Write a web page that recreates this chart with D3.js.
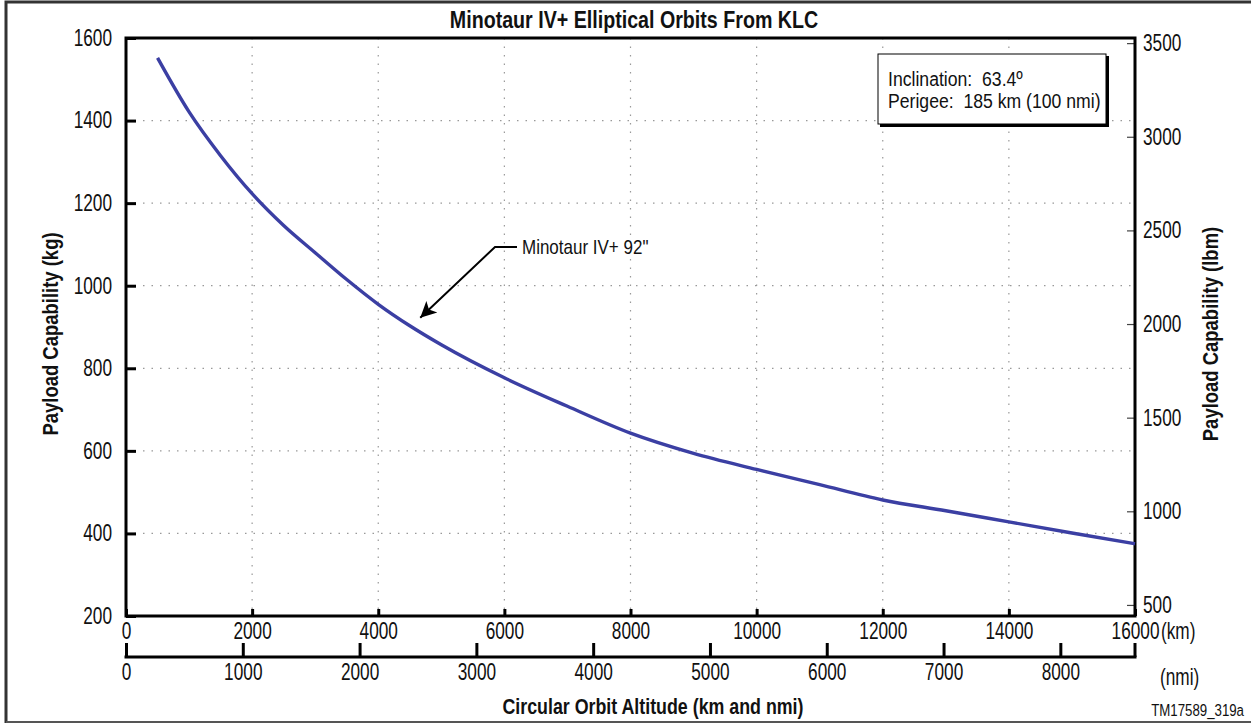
<!DOCTYPE html>
<html><head><meta charset="utf-8">
<script src="https://cdn.jsdelivr.net/npm/d3@7"></script>
<style>
html,body{margin:0;padding:0;background:#fff;}
svg{display:block;}
text{font-family:"Liberation Sans",Arial,sans-serif;fill:#111;white-space:pre;}
</style></head>
<body>
<svg id="chart" width="1251" height="723"></svg>
<script>
// ---- data ----
const altitudeKm = [500, 1000, 1500, 2000, 2500, 3000, 3500, 4000, 4500, 5000, 6000, 7000, 8000, 9000, 10000, 11000, 12000, 13000, 14000, 15000, 16000];
const payloadKg  = [1552, 1421, 1315, 1223, 1146, 1080, 1015, 955, 903, 857, 777, 708, 643, 594, 555, 518, 481, 455, 428, 401, 375];
const kmTicks  = [0, 2000, 4000, 6000, 8000, 10000, 12000, 14000, 16000];
const nmiTicks = [0, 1000, 2000, 3000, 4000, 5000, 6000, 7000, 8000];
const kgTicks  = [200, 400, 600, 800, 1000, 1200, 1400, 1600];
const lbmTicks = [500, 1000, 1500, 2000, 2500, 3000, 3500];
const seriesName = 'Minotaur IV+ 92"';
const legendLines = ["Inclination:  63.4º", "Perigee:  185 km (100 nmi)"];

const KM_PER_NMI = 1.852, KG_PER_LBM = 0.45359237;

const svg = d3.select("#chart");
const L = 126, R = 1135, T = 38, B = 616, NMI_Y = 657;

const x = d3.scaleLinear().domain([0, 16000]).range([L, R]);
const y = d3.scaleLinear().domain([200, 1600]).range([B, T]);
const xNmi = d3.scaleLinear().domain([0, 16000 / KM_PER_NMI]).range([L, R]);
const yLbm = d3.scaleLinear().domain([200 / KG_PER_LBM, 1600 / KG_PER_LBM]).range([B, T]);

// horizontal squeeze to mimic a narrow typeface
function squeeze(sel, sx) {
  sel.each(function () {
    const t = d3.select(this);
    const ax = +t.attr("x") || 0;
    const tr = t.attr("transform") || "";
    t.attr("transform", `${tr} translate(${ax},0) scale(${sx},1) translate(${-ax},0)`);
  });
}

// outer frame
svg.append("path").attr("d", `M6,723 L6,2 L1251,2`).attr("fill", "none").attr("stroke", "#333").attr("stroke-width", 3);
svg.append("line").attr("x1", 6).attr("x2", 1251).attr("y1", 722).attr("y2", 722).attr("stroke", "#555").attr("stroke-width", 2);

// grid
const grid = svg.append("g").attr("stroke", "#999").attr("stroke-width", 1.2).attr("stroke-dasharray", "1.5,7");
grid.selectAll(".gv").data(kmTicks.filter(d => d > 0 && d < 16000)).join("line")
  .attr("x1", d => x(d)).attr("x2", d => x(d)).attr("y1", T).attr("y2", B);
grid.selectAll(".gh").data(kgTicks.filter(d => d > 200 && d < 1600)).join("line")
  .attr("x1", L).attr("x2", R).attr("y1", d => y(d)).attr("y2", d => y(d));

// axes
const FS = 23, SX = 0.75;
const left = svg.append("g").attr("transform", `translate(${L},0)`)
  .call(d3.axisRight(y).tickValues(kgTicks).tickSize(10).tickFormat(d3.format("d")));
left.selectAll("text").attr("x", -14).attr("text-anchor", "end");

const right = svg.append("g").attr("transform", `translate(${R},0)`)
  .call(d3.axisLeft(yLbm).tickValues(lbmTicks).tickSize(8).tickFormat(d3.format("d")));
right.selectAll("text").attr("x", 8).attr("text-anchor", "start");

const bottom = svg.append("g").attr("transform", `translate(0,${B})`)
  .call(d3.axisTop(x).tickValues(kmTicks).tickSize(7).tickFormat(d3.format("d")));
bottom.selectAll("text").attr("y", 15).attr("dy", "0.35em");

const nmiAxis = svg.append("g").attr("transform", `translate(0,${NMI_Y})`)
  .call(d3.axisTop(xNmi).tickValues(nmiTicks).tickSize(14).tickFormat(d3.format("d")));
nmiAxis.selectAll("text").attr("y", 14.5).attr("dy", "0.35em");
nmiAxis.append("line").attr("x1", R).attr("x2", R).attr("y1", 0).attr("y2", -14);

[left, right, bottom, nmiAxis].forEach(g => {
  g.select(".domain").remove();
  g.selectAll("line").attr("stroke", "#000").attr("stroke-width", 3);
  g.selectAll("text").attr("fill", "#111").style("font-size", FS + "px").call(squeeze, SX);
});
right.selectAll("line").attr("stroke", "#444").attr("stroke-width", 1.2);

// axis frame lines
const frame = svg.append("g").attr("stroke", "#000").attr("stroke-width", 3).attr("fill", "none");
frame.append("path").attr("d", `M${L},${T} L${L},${B} L${R},${B} L${R},${T} Z`);
frame.append("line").attr("x1", L - 1.5).attr("x2", R + 1.5).attr("y1", NMI_Y).attr("y2", NMI_Y);

// unit labels
svg.append("text").attr("x", 1161).attr("y", 631).attr("dy", "0.35em").style("font-size", FS + "px").text("(km)").call(squeeze, SX);
svg.append("text").attr("x", 1160).attr("y", 677).attr("dy", "0.35em").style("font-size", FS + "px").text("(nmi)").call(squeeze, SX);

// curve
const line = d3.line().x(d => x(d[0])).y(d => y(d[1])).curve(d3.curveMonotoneX);
svg.append("path").datum(altitudeKm.map((k, i) => [k, payloadKg[i]]))
  .attr("d", line).attr("fill", "none").attr("stroke", "#3b3fa3").attr("stroke-width", 3.4).attr("stroke-linecap", "butt");

// annotation
const tipKm = 4650, tipKg = 920;
svg.append("defs").append("marker").attr("id", "ah").attr("viewBox", "0 0 10 10")
  .attr("refX", 10).attr("refY", 5).attr("markerWidth", 20).attr("markerHeight", 16).attr("orient", "auto")
  .attr("markerUnits", "userSpaceOnUse")
  .append("path").attr("d", "M0,0 L10,5 L0,10 L2.5,5 Z").attr("fill", "#000");
svg.append("path").attr("d", `M517,247 L495,247 L${x(tipKm) + 1},${y(tipKg) - 1}`)
  .attr("fill", "none").attr("stroke", "#000").attr("stroke-width", 2).attr("marker-end", "url(#ah)");
svg.append("text").attr("x", 522).attr("y", 247).attr("dy", "0.35em").style("font-size", "20px").text(seriesName).call(squeeze, 0.85);

// legend box
const lg = svg.append("g");
lg.append("rect").attr("x", 880).attr("y", 56).attr("width", 229).attr("height", 71).attr("fill", "#000");
lg.append("rect").attr("x", 878).attr("y", 54).attr("width", 228).attr("height", 70).attr("fill", "#fff").attr("stroke", "#000").attr("stroke-width", 1);
lg.selectAll("text").data(legendLines).join("text")
  .attr("x", 888).attr("y", (d, i) => 79 + i * 22).attr("dy", "0.35em").style("font-size", "21px").text(d => d).call(squeeze, 0.84);

// titles
svg.append("text").attr("x", 634).attr("y", 20).attr("dy", "0.35em").attr("text-anchor", "middle")
  .style("font-size", "23px").style("font-weight", "bold").text("Minotaur IV+ Elliptical Orbits From KLC").call(squeeze, 0.855);
svg.append("text").attr("transform", "translate(50,334) rotate(-90)").attr("dy", "0.35em").attr("text-anchor", "middle")
  .style("font-size", "22px").style("font-weight", "bold").text("Payload Capability (kg)").call(squeeze, 0.84);
svg.append("text").attr("transform", "translate(1210,334) rotate(-90)").attr("dy", "0.35em").attr("text-anchor", "middle")
  .style("font-size", "22px").style("font-weight", "bold").text("Payload Capability (lbm)").call(squeeze, 0.84);
svg.append("text").attr("x", 653).attr("y", 706).attr("dy", "0.35em").attr("text-anchor", "middle")
  .style("font-size", "22px").style("font-weight", "bold").text("Circular Orbit Altitude (km and nmi)").call(squeeze, 0.81);
svg.append("text").attr("x", 1244).attr("y", 710).attr("dy", "0.35em").attr("text-anchor", "end")
  .style("font-size", "17px").text("TM17589_319a").call(squeeze, 0.78);
</script>
</body></html>
